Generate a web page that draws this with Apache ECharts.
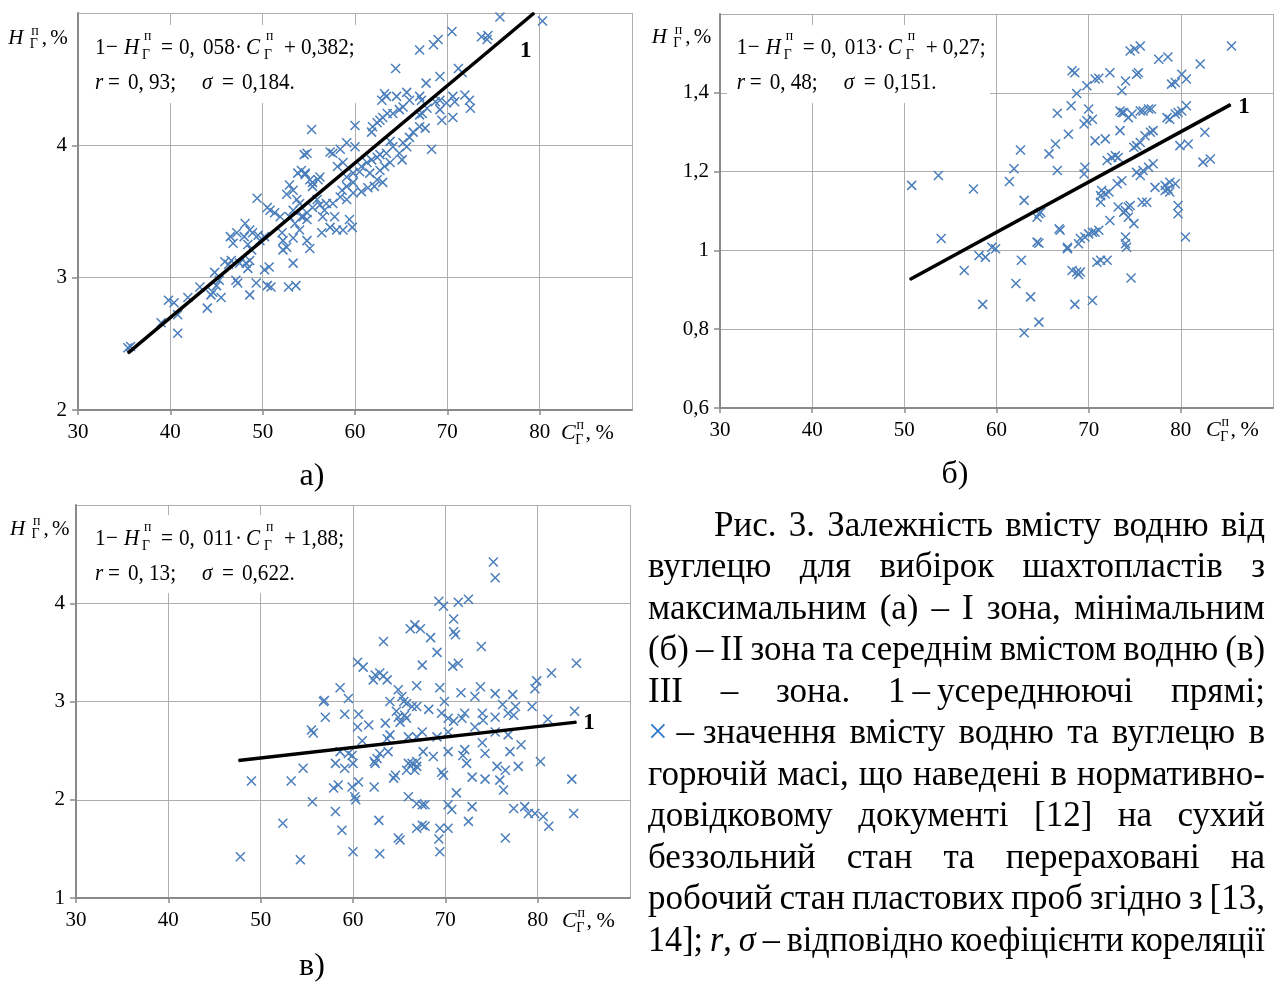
<!DOCTYPE html>
<html><head><meta charset="utf-8">
<script src="https://cdn.jsdelivr.net/npm/echarts@6/dist/echarts.min.js"></script>
<style>html,body{margin:0;padding:0;background:#fff}#main{width:1275px;height:983px}</style>
</head><body><div id="main"></div>
<script>
// ---------------- DATA ----------------
const xTicks = [30, 40, 50, 60, 70, 80, 90];
const yRangeA = [2, 5, 1];
const yRangeB = [0.6, 1.6, 0.2];
const yRangeC = [1, 5, 1];

// (а) I zone: C, H
const pointsA = [
[35.4,2.47],[35.7,2.48],[39.8,2.83],[40.4,2.81],[40.8,2.72],[40.8,2.58],[39.0,2.66],[41.9,2.85],[43.2,2.93],[44.0,2.77],
[44.4,2.87],[44.6,2.89],[44.8,3.04],[45.3,2.98],[45.5,2.85],[45.0,2.94],[45.9,3.12],[46.3,3.10],[46.6,3.13],[47.1,2.98],
[47.3,2.96],[47.5,3.11],[48.0,3.31],[48.4,3.25],[48.8,3.21],[48.2,3.11],[48.4,3.07],[48.6,3.13],[48.6,2.87],[49.5,3.32],
[50.2,3.31],[49.3,2.96],[50.2,3.06],[50.7,3.08],[50.5,2.94],[50.9,2.93],[52.2,3.21],[53.3,3.11],[52.8,2.93],[53.6,2.94],
[53.3,3.30],[55.1,3.22],[58.7,3.36],
[55.3,4.12],[54.5,3.93],[53.8,3.79],[54.2,3.81],[54.6,3.78],[55.1,3.74],[55.4,3.69],[49.4,3.60],[50.5,3.53],[50.8,3.51],
[51.3,3.49],[51.9,3.46],[52.9,3.70],[53.3,3.66],[52.6,3.63],[53.7,3.59],[54.0,3.56],[53.3,3.51],[54.8,3.49],[54.2,3.46],
[52.9,3.46],[53.5,3.41],[54.0,3.36],[54.8,3.44],[55.4,3.53],[55.9,3.59],[48.1,3.41],[48.6,3.36],[47.2,3.34],[46.5,3.31],
[46.8,3.26],[48.9,3.34],[49.7,3.28],[52.1,3.34],[52.2,3.28],[52.6,3.23],
[75.7,4.97],[80.3,4.94],[70.5,4.86],[69.0,4.80],[68.5,4.76],[67.0,4.72],[73.7,4.82],[74.3,4.80],[74.4,4.83],[64.4,4.58],
[67.7,4.47],[69.2,4.52],[71.2,4.58],[71.6,4.55],[63.2,4.39],[63.4,4.37],[64.5,4.37],[62.9,4.34],[65.6,4.40],[65.9,4.34],
[67.0,4.37],[67.2,4.34],[68.7,4.33],[69.2,4.34],[69.9,4.32],[70.6,4.37],[70.8,4.33],[71.9,4.38],[72.4,4.34],[72.5,4.28],
[70.6,4.21],[69.4,4.19],[69.2,4.27],[67.8,4.28],[67.3,4.24],[67.0,4.23],[65.2,4.29],[64.8,4.27],[64.1,4.24],[63.5,4.24],
[63.0,4.21],[62.7,4.19],[62.4,4.17],[61.9,4.14],[61.8,4.10],[60.0,4.15],[67.6,4.13],[66.3,4.10],[67.0,4.14],[65.9,4.06],
[65.2,4.02],[65.6,3.99],[64.8,3.94],[65.1,3.89],[68.3,3.97],[63.8,4.03],[64.1,3.99],[63.4,3.94],[62.7,3.93],[63.8,3.87],
[63.2,3.84],[62.7,3.81],[62.4,3.91],[61.8,3.89],[61.3,3.87],[60.7,3.84],[60.5,3.80],[61.6,3.79],[62.4,3.74],[63.0,3.72],
[62.1,3.69],[61.4,3.68],[60.7,3.65],[60.0,3.99],[59.1,4.02],[58.4,3.97],[57.6,3.94],[57.3,3.95],[58.7,3.87],[58.1,3.84],
[59.8,3.79],[59.1,3.76],[59.8,3.72],[59.1,3.69],[58.6,3.66],[59.8,3.64],[58.4,3.61],[59.1,3.59],[57.6,3.56],[56.9,3.56],
[56.2,3.55],[56.7,3.51],[56.5,3.46],[57.8,3.46],[57.3,3.38],[59.4,3.44],[59.7,3.38],[56.4,3.34],[58.0,3.36],[56.2,3.76],
[56.0,3.74],[55.4,3.72],[54.8,3.94],[54.6,3.79],[54.4,3.46],[54.8,3.28]
];
const fitA = [[35.4,2.43],[79.4,5.0]];

// (б) II zone
const pointsB = [
[50.8,1.165],[53.7,1.19],[54.0,1.03],[57.5,1.156],[61.4,1.175],[61.9,1.207],[62.6,1.255],[63.0,1.127],[64.4,1.084],[64.6,1.093],
[64.8,1.097],[64.4,1.021],[65.7,1.245],[66.4,1.27],[66.6,1.348],[66.6,1.203],[66.8,1.055],[66.9,1.051],[67.8,1.295],[68.1,1.367],
[68.2,1.456],[68.5,1.451],[68.7,1.398],[69.5,1.321],[69.8,1.329],[70.4,1.333],[70.0,1.359],[69.8,1.418],[70.7,1.435],[71.1,1.437],
[69.6,1.211],[69.5,1.194],[69.1,1.030],[69.6,1.034],[70.0,1.042],[70.4,1.046],[70.7,1.046],[71.1,1.051],[67.7,1.008],[70.7,1.278],
[71.8,1.283],[71.4,1.152],[71.3,1.139],[71.8,1.143],[72.2,1.148],[71.3,1.122],[72.0,1.228],[72.5,1.236],[72.9,1.240],[73.2,1.236],
[72.3,1.451],[73.4,1.304],[73.8,1.350],[73.6,1.405],[74.0,1.430],[73.1,1.169],[73.6,1.177],[72.3,1.076],[73.2,1.110],[73.8,1.097],
[74.0,1.101],[74.3,1.110],[74.5,1.114],[74.0,1.034],[74.0,1.017],[74.5,1.506],[75.0,1.511],[75.6,1.519],[73.4,1.354],[73.6,1.350],
[74.3,1.337],[74.7,1.346],[75.6,1.354],[75.9,1.354],[76.5,1.359],[76.8,1.359],[74.9,1.262],[75.2,1.266],[75.6,1.274],[76.1,1.291],
[76.7,1.300],[77.0,1.304],[75.2,1.447],[75.4,1.451],[75.2,1.198],[75.6,1.190],[75.9,1.203],[76.5,1.211],[77.0,1.220],[74.9,1.068],
[75.8,1.122],[76.3,1.122],[77.2,1.160],[78.3,1.165],[78.6,1.156],[78.8,1.173],[79.4,1.169],[78.3,1.152],[78.8,1.148],[77.6,1.485],
[78.6,1.491],[78.5,1.337],[78.8,1.333],[79.4,1.346],[79.7,1.350],[80.1,1.354],[80.6,1.367],[79.0,1.422],[79.4,1.426],[80.1,1.447],
[80.6,1.435],[79.9,1.266],[80.8,1.270],[79.7,1.114],[79.7,1.093],[80.5,1.034],[82.1,1.473],[82.6,1.300],[82.4,1.224],[83.2,1.232],
[85.5,1.519],
[56.5,0.949],[58.1,0.987],[58.8,0.983],[59.5,1.008],[59.9,1.004],[58.5,0.863],[62.7,0.975],[62.1,0.916],[63.7,0.882],[63.0,0.791],
[64.6,0.818],[64.6,1.018],[67.7,1.004],[68.2,0.949],[68.7,0.945],[69.1,0.945],[68.9,0.939],[68.5,0.863],[70.4,0.873],[68.9,1.017],
[70.9,0.970],[71.3,0.975],[72.0,0.975],[74.3,1.084],[74.1,1.008],[74.6,0.930]
];
const fitB = [[50.6,0.926],[85.4,1.370]];

// (в) III zone
const pointsC = [
[47.8,1.42],[54.3,1.39],[52.4,1.76],[49.0,2.19],[53.3,2.19],[54.6,2.32],[55.6,1.98],[55.5,2.71],[55.7,2.68],[56.8,3.00],
[56.9,3.01],[57.0,2.84],[58.6,3.14],[59.5,3.03],[59.1,2.87],[60.5,3.40],[61.1,3.35],[63.3,3.61],[62.4,3.27],[62.9,3.29],
[63.3,3.26],[62.2,3.22],[63.7,3.22],[66.2,3.74],[66.7,3.78],[67.3,3.74],[67.5,3.37],[66.9,3.16],[60.6,2.87],[60.5,2.74],
[61.7,2.76],[61.0,2.60],[58.6,2.49],[59.5,2.47],[59.9,2.45],[60.0,2.37],[58.1,2.37],[59.1,2.32],[57.9,2.12],[58.4,2.15],
[59.9,2.13],[60.6,2.18],[60.2,2.03],[60.3,2.00],[58.1,1.88],[58.8,1.69],[60.0,1.47],[62.3,2.13],[62.8,1.79],[62.9,1.45],
[64.9,1.61],[65.1,1.59],[62.3,2.39],[62.6,2.42],[62.4,2.37],[62.9,2.47],[63.8,2.49],[63.7,2.62],[63.5,2.78],[64.0,2.66],
[64.0,3.00],[64.9,3.12],[65.3,3.05],[65.5,3.00],[65.8,2.98],[66.4,2.95],[66.9,2.95],[64.7,2.90],[64.9,2.84],[65.6,2.86],
[65.8,2.83],[65.1,2.79],[66.0,2.64],[66.9,2.64],[67.5,2.69],[64.6,2.25],[64.4,2.22],[65.8,2.30],[66.4,2.37],[66.9,2.34],
[66.7,2.30],[66.0,2.37],[66.0,2.03],[66.9,1.96],[67.5,1.95],[66.9,1.71],[67.5,1.74],
[75.2,4.42],[75.4,4.26],[69.3,4.02],[69.8,3.97],[71.4,4.01],[72.5,4.04],[70.9,3.84],[70.9,3.71],[71.1,3.68],[68.4,3.65],
[73.9,3.56],[69.1,3.50],[70.8,3.36],[71.4,3.39],[84.2,3.39],[81.5,3.29],[79.9,3.21],[79.7,3.13],[69.4,3.14],[71.7,3.09],
[73.2,3.05],[73.8,3.15],[75.4,3.08],[77.3,3.07],[68.2,2.92],[69.9,3.00],[69.6,2.88],[70.3,2.83],[70.9,2.80],[71.8,2.83],
[72.1,2.88],[73.2,2.74],[74.0,2.88],[74.1,2.81],[75.4,2.84],[76.2,2.97],[76.8,2.88],[77.6,2.95],[77.4,2.86],[79.4,2.95],
[81.1,2.82],[84.0,2.90],[75.4,2.69],[76.8,2.66],[69.1,2.64],[70.3,2.69],[74.0,2.58],[74.3,2.47],[72.1,2.51],[71.9,2.45],
[68.7,2.44],[67.6,2.49],[70.3,2.49],[66.9,2.39],[77.0,2.49],[78.2,2.56],[72.3,2.37],[69.6,2.28],[69.8,2.25],[75.6,2.34],
[76.5,2.30],[77.9,2.34],[80.3,2.39],[72.9,2.23],[74.3,2.21],[75.9,2.20],[76.3,2.10],[83.7,2.21],[71.2,2.07],[70.3,1.95],
[70.7,1.90],[67.8,1.95],[72.9,1.93],[77.4,1.91],[78.6,1.93],[79.0,1.86],[79.7,1.86],[80.6,1.83],[81.2,1.73],[83.9,1.86],
[72.5,1.78],[69.4,1.71],[70.3,1.71],[67.8,1.73],[69.3,1.60],[69.4,1.47],[76.5,1.61]
];
const fitC = [[47.6,2.40],[84.2,2.79]];

// equation texts
const eqA = ['0,', '058', '0,', '382;', '0,', '93;', '0,184.'];
const eqB = ['0,', '013', '0,', '27;', '0,', '48;', '0,151.'];
const eqC = ['0,', '011', '1,', '88;', '0,', '13;', '0,622.'];
const panelLabels = ['а)', 'б)', 'в)'];

const captionLines = [
  'Рис. 3. Залежність вмісту водню від',
  'вуглецю для вибірок шахтопластів з',
  'максимальним (а) – I зона, мінімальним',
  '(б) – II зона та середнім вмістом водню (в)',
  'III – зона. 1\u2009–\u2009усереднюючі прямі;',
  '{x|×}\u00a0–\u00a0значення вмісту водню та вуглецю в',
  'горючій масі, що наведені в нормативно-',
  'довідковому документі [12] на сухий',
  'беззольний стан та перераховані на',
  'робочий стан пластових проб згідно з [13,',
  '14]; {i|r}, {i|σ} – відповідно коефіцієнти кореляції'
];

// ---------------- RENDER ----------------
const SERIF = "'Liberation Serif','Times New Roman',serif";
const BLUE = '#4A7EBB';
const AXIS = '#8a8a8a';
const GRIDC = '#adadad';

const ctx = document.createElement('canvas').getContext('2d');
function fontStr(size, it, bold){ return (it?'italic ':'') + (bold?'bold ':'') + size + 'px ' + SERIF; }
function mw(t, size, it){ ctx.font = fontStr(size, it); return ctx.measureText(t).width; }

function T(x, y, text, size, opt){
  opt = opt || {};
  const el = {type:'text', x:x, y:y, z:10, silent:true,
    style:{text:text, fill:opt.color||'#000', font:fontStr(size, opt.italic, opt.bold),
      align:opt.align||'left', verticalAlign:'middle'}};
  if (opt.scaleX) el.scaleX = opt.scaleX;
  return el;
}

const G = [];
// white boxes behind equations
[[85,25,277,78],[727,25,263,78],[85,515,267,78]].forEach(r => {
  G.push({type:'rect', z:1, silent:true, shape:{x:r[0], y:r[1], width:r[2], height:r[3]}, style:{fill:'#fff'}});
});

const EQS = 23, EQX = 0.92;
function E(x, y, t, it){ return T(x, y, t, EQS, {italic:it, scaleX:EQX}); }
function supsub(x, cy){
  G.push(T(x+2, cy - 11, 'п', 15, {scaleX:EQX}));
  G.push(T(x, cy + 7.5, 'Г', 15, {scaleX:EQX}));
}
function equation(x0, cy, e){
  G.push(E(x0, cy, '1'));
  G.push(E(x0+11, cy, '\u2212'));
  G.push(E(x0+29, cy, 'H', true));
  supsub(x0+47, cy);
  G.push(E(x0+66, cy, '='));
  G.push(E(x0+84, cy, e[0]));
  G.push(E(x0+108, cy, e[1]));
  G.push(E(x0+140, cy, '\u00b7'));
  G.push(E(x0+151, cy, 'C', true));
  supsub(x0+169, cy);
  G.push(E(x0+189, cy, '+'));
  G.push(E(x0+206, cy, e[2]));
  G.push(E(x0+222, cy, e[3]));
  const cy2 = cy + 35;
  G.push(E(x0, cy2, 'r', true));
  G.push(E(x0+13, cy2, '='));
  G.push(E(x0+33, cy2, e[4]));
  G.push(E(x0+54, cy2, e[5]));
  G.push(E(x0+107, cy2, 'σ', true));
  G.push(E(x0+127, cy2, '='));
  G.push(E(x0+147, cy2, e[6]));
}
equation(95, 47.5, eqA);
equation(736.7, 47.5, eqB);
equation(95, 538.5, eqC);

function yTitle(x0, cy){
  const s = 21;
  G.push(T(x0, cy, 'H', s, {italic:true}));
  G.push(T(x0+23, cy-7.5, 'п', 14));
  G.push(T(x0+21.5, cy+5.5, 'Г', 14));
  G.push(T(x0+33.5, cy, ',', s));
  G.push(T(x0+42, cy, '%', s));
}
function xTitle(x0, cy){
  const s = 22;
  G.push(T(x0, cy, 'C', s, {italic:true}));
  G.push(T(x0+15.5, cy-8, 'п', 14));
  G.push(T(x0+14.3, cy+7, 'Г', 14));
  G.push(T(x0+24.5, cy, ',', s));
  G.push(T(x0+34.5, cy, '%', s));
}
yTitle(8.3, 38.5); yTitle(651.7, 37.5); yTitle(10, 529);
xTitle(561, 433); xTitle(1206, 430); xTitle(562, 921);

G.push(T(312, 477, panelLabels[0], 32, {align:'center'}));
G.push(T(955, 475, panelLabels[1], 32, {align:'center'}));
G.push(T(312, 967, panelLabels[2], 32, {align:'center'}));

// caption, justified
(function(){
  const size = 35, right = 1265, minSp = 0.2*size;
  captionLines.forEach((line, i) => {
    const left = i === 0 ? 714 : 648;
    const cy = 526.5 + 41.5*i;
    const words = line.split(' ').map(w => {
      const segs = []; const re = /\{(\w)\|([^}]*)\}|([^{]+)/g; let m;
      while ((m = re.exec(w))) { if (m[3] !== undefined) segs.push({t:m[3]}); else segs.push({t:m[2], k:m[1]}); }
      let wsum = 0;
      segs.forEach(sg => { sg.w = mw(sg.t, size, sg.k==='i'); sg.off = wsum; wsum += sg.w; });
      return {segs:segs, w:wsum};
    });
    const n = words.length;
    const sum = words.reduce((a,b)=>a+b.w, 0);
    const avail = right - left;
    let sc = 1;
    if (sum + (n-1)*minSp > avail) sc = (avail - (n-1)*minSp)/sum;
    const gap = n > 1 ? (avail - sc*sum)/(n-1) : 0;
    let x = left;
    words.forEach(wd => {
      wd.segs.forEach(sg => {
        G.push(T(x + sc*sg.off, cy, sg.t, size, {italic: sg.k==='i', color: sg.k==='x' ? '#2E78C8' : '#000', scaleX: sc < 1 ? sc : undefined}));
      });
      x += sc*wd.w + gap;
    });
  });
})();

function fmt(v){ return String(Math.round(v*10)/10).replace('.', ','); }
function xAx(gi){
  return {type:'value', gridIndex:gi, min:xTicks[0], max:xTicks[xTicks.length-1], interval:xTicks[1]-xTicks[0],
    axisLine:{show:true, onZero:false, lineStyle:{color:AXIS, width:2}},
    axisTick:{show:true, length:5, lineStyle:{color:AXIS, width:1.5}},
    axisLabel:{show:true, margin:11.5, fontFamily:SERIF, fontSize:21, color:'#000', showMaxLabel:false,
      formatter: v => v >= xTicks[xTicks.length-1] ? '' : String(v)},
    splitLine:{show:true, lineStyle:{color:GRIDC, width:1}}};
}
function yAx(gi, r){
  return {type:'value', gridIndex:gi, min:r[0], max:r[1], interval:r[2],
    axisLine:{show:true, onZero:false, lineStyle:{color:AXIS, width:2}},
    axisTick:{show:true, length:6, lineStyle:{color:AXIS, width:1.5}},
    axisLabel:{show:true, margin:11, fontFamily:SERIF, fontSize:21, color:'#000', showMaxLabel:false,
      formatter: v => v >= r[1]-1e-9 ? '' : fmt(v)},
    splitLine:{show:true, lineStyle:{color:GRIDC, width:1}}};
}
function scat(i, data){
  return {type:'scatter', xAxisIndex:i, yAxisIndex:i, data:data, z:2, silent:true,
    symbol:'path://M0,0L10,10M10,0L0,10', symbolSize:9,
    itemStyle:{color:'rgba(0,0,0,0)', borderColor:BLUE, borderWidth:1.5, opacity:1}};
}
function fit(i, data, pos){
  return {type:'line', xAxisIndex:i, yAxisIndex:i, z:3, silent:true,
    symbol:'circle', symbolSize:1, showSymbol:true, itemStyle:{color:'#000'},
    lineStyle:{color:'#000', width:3.5},
    data: data.map((p, k) => k === data.length-1 ? {value:p, label:{show:true, formatter:'1', position:pos,
      align:'center', verticalAlign:'middle', fontFamily:SERIF, fontWeight:'bold', fontSize:23, color:'#000'}} : p)};
}

const chart = echarts.init(document.getElementById('main'), null, {renderer:'canvas'});
chart.setOption({
  animation:false,
  backgroundColor:'#fff',
  grid:[
    {left:78, top:13, width:554, height:397, containLabel:false, outerBoundsMode:'none'},
    {left:720, top:14, width:553, height:394, containLabel:false, outerBoundsMode:'none'},
    {left:76, top:505, width:554, height:393, containLabel:false, outerBoundsMode:'none'}
  ],
  xAxis:[xAx(0), xAx(1), xAx(2)],
  yAxis:[yAx(0, yRangeA), yAx(1, yRangeB), yAx(2, yRangeC)],
  series:[scat(0, pointsA), scat(1, pointsB), scat(2, pointsC),
    fit(0, fitA, [-8, 39]), fit(1, fitB, [14, 3]), fit(2, fitC, [13, 1.5])],
  graphic:{elements:G}
});
</script>
</body></html>
